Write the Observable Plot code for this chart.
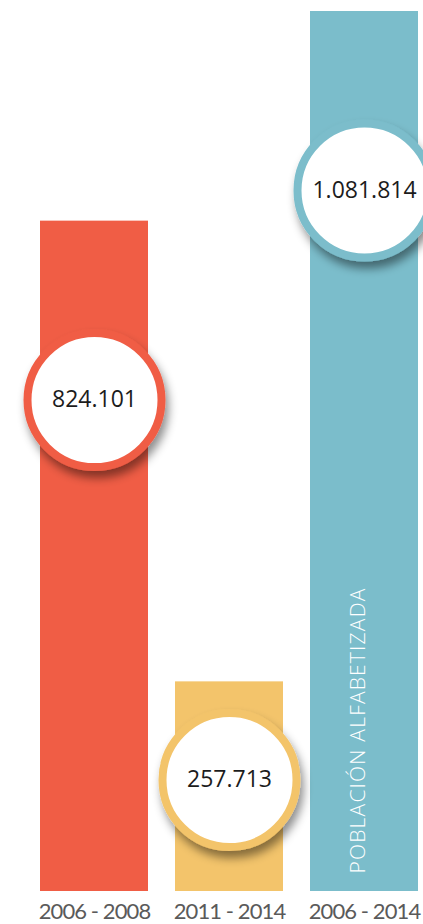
<!DOCTYPE html>
<html>
<head>
<meta charset="utf-8">
<script src="https://cdn.jsdelivr.net/npm/d3@7"></script>
<script src="https://cdn.jsdelivr.net/npm/@observablehq/plot@0.6"></script>
<style>
  html, body { margin: 0; padding: 0; background: #fff; overflow: hidden; }
  #chart svg { display: block; }
</style>
</head>
<body>
<div id="chart"></div>
<script>
const periods = ["2006 - 2008", "2011 - 2014", "2006 - 2014"];
const values = [824101, 257713, 1081814];
const palette = ["#F05D45", "#F3C46B", "#7BBDCB"];
const barLabel = "POBLACIÓN ALFABETIZADA";

const data = periods.map((p, i) => ({period: p, value: values[i]}));
const fmt = d3.formatLocale({thousands: ".", decimal: ",", grouping: [3], currency: ["", ""]}).format(",d");
// circle centre: a fixed distance below the bar top, but kept clear of the baseline
const badgeY = d => Math.max(d.value - 220000, 137000);

const chart = Plot.plot({
  width: 423,
  height: 924,
  marginTop: 11,
  marginBottom: 33,
  marginLeft: 0,
  marginRight: 5,
  style: {fontFamily: "Lato, 'Open Sans', sans-serif", background: "#fff", overflow: "visible"},
  x: {domain: periods, range: [40, 418], paddingInner: 0.2, paddingOuter: 0, label: null},
  y: {domain: [0, 1081814], range: [891, 11], axis: null},
  color: {domain: periods, range: palette},
  marks: [
    Plot.barY(data, {x: "period", y: "value", fill: "period"}),
    Plot.text([barLabel], {
      x: () => periods[2], frameAnchor: "bottom", dy: -18, rotate: -90,
      textAnchor: "start", fill: "#fff", fontSize: 21, fontWeight: 300,
      fontFamily: "'Open Sans', sans-serif", text: d => d
    }),
    Plot.dot(data, {x: "period", y: badgeY, r: 67, fill: "#fff", stroke: "period", strokeWidth: 8}),
    Plot.text(data, {x: "period", y: badgeY, text: d => fmt(d.value), fontSize: 23,
      fill: "#1c1c1c", fontFamily: "'Open Sans', sans-serif"}),
    Plot.axisX({tickSize: 0, tickPadding: 12, fontSize: 22, color: "#5a5a5a", label: null})
  ]
});

const svg = d3.select(chart);
svg.selectAll("text").filter(function() { return this.textContent === barLabel; })
  .style("letter-spacing", "1.2px");
svg.selectAll("g[aria-label='x-axis tick label'] text").style("letter-spacing", "-0.9px");
const defs = svg.insert("defs", ":first-child");
const f = defs.append("filter").attr("id", "badgeShadow")
  .attr("x", "-30%").attr("y", "-30%").attr("width", "160%").attr("height", "170%");
f.append("feDropShadow").attr("dx", 3).attr("dy", 7).attr("stdDeviation", 5)
  .attr("flood-color", "#000").attr("flood-opacity", 0.45);
svg.selectAll("g[aria-label=dot]").attr("filter", "url(#badgeShadow)");

document.getElementById("chart").appendChild(chart);
</script>
</body>
</html>
